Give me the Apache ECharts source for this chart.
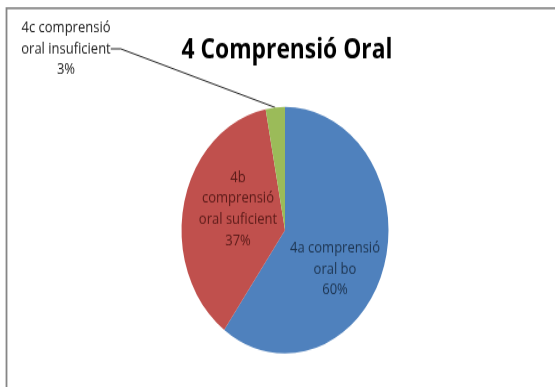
<!DOCTYPE html>
<html>
<head>
<meta charset="utf-8">
<script src="https://cdn.jsdelivr.net/npm/echarts@6/dist/echarts.min.js"></script>
<style>
html,body{margin:0;padding:0;background:#fff;}
#wrap{width:555px;height:387px;overflow:hidden;background:#fff;position:relative;}
#main{width:555px;height:325px;transform:scaleY(1.1908);transform-origin:0 0;}
</style>
</head>
<body>
<div id="wrap"><div id="main"></div></div>
<script>
// Data
const titleText = '4 Comprensió Oral';
const categories = ['4a comprensió\noral bo', '4b\ncomprensió\noral suficient', '4c comprensió\noral insuficient'];
const values = [60, 37, 3];

// Styles (not data)
const sliceColors = ['#4F81BD', '#C0504D', '#9BBB59'];
const labelColors = ['#1d3450', '#5a1a18', '#222222'];
const labelX = [335, 238, 66];
const labelY = [226, 175.5, 41];

const chart = echarts.init(document.getElementById('main'), null, {renderer: 'canvas'});
chart.setOption({
  animation: false,
  backgroundColor: '#ffffff',
  title: {
    text: titleText,
    left: 282,
    top: 38,
    textAlign: 'center',
    textVerticalAlign: 'middle',
    textStyle: {fontFamily: 'Open Sans', fontWeight: 'bold', fontSize: 22.8, color: '#000'}
  },
  graphic: [{
    type: 'rect',
    shape: {x: 6.5, y: 6.8, width: 600, height: 400},
    style: {fill: 'none', stroke: '#868686', lineWidth: 1.8},
    silent: true
  }],
  series: [{
    type: 'pie',
    center: [285, 193.3],
    radius: 103.5,
    startAngle: 90,
    clockwise: true,
    avoidLabelOverlap: false,
    label: {
      fontFamily: 'Open Sans',
      fontSize: 13,
      lineHeight: 17.6,
      align: 'center',
      formatter: '{b}\n{d}%'
    },
    labelLayout: function (p) {
      return {x: labelX[p.dataIndex], y: labelY[p.dataIndex], align: 'center', verticalAlign: 'middle'};
    },
    labelLine: {show: false},
    data: categories.map((c, i) => ({
      name: c,
      value: values[i],
      itemStyle: {color: sliceColors[i]},
      label: {position: i === 2 ? 'outside' : 'inside', color: labelColors[i]},
      labelLine: i === 2 ? {show: true, length: 10, length2: 10, lineStyle: {color: '#222', width: 1}} : {show: false}
    }))
  }]
});
</script>
</body>
</html>
